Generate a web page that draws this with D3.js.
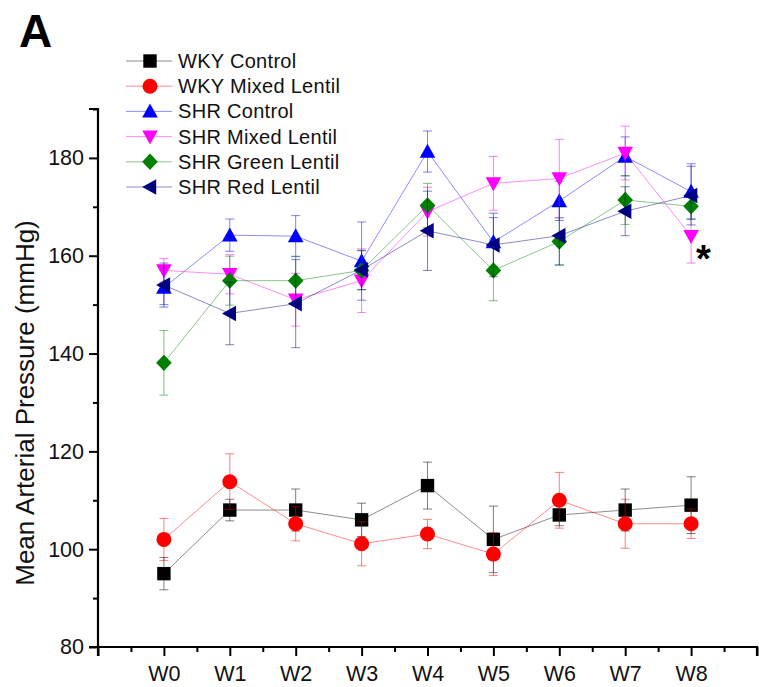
<!DOCTYPE html>
<html>
<head>
<meta charset="utf-8">
<script src="https://cdn.jsdelivr.net/npm/d3@7"></script>
<style>
  html, body { margin: 0; padding: 0; background: #fff; }
  svg { display: block; font-family: "Liberation Sans", Arial, sans-serif; }
</style>
</head>
<body>
<svg id="chart" width="759" height="687"></svg>
<script>
// ---- data ----
const weeks = ["W0", "W1", "W2", "W3", "W4", "W5", "W6", "W7", "W8"];
const seriesNames = ["WKY Control", "WKY Mixed Lentil", "SHR Control", "SHR Mixed Lentil", "SHR Green Lentil", "SHR Red Lentil"];
const wkyControl      = [95, 108, 108, 106, 113, 102, 107, 108, 109];
const wkyControlErr   = [3.3, 2.2, 4.3, 3.4, 4.8, 6.8, 2.2, 4.3, 5.8];
const wkyMixed        = [102, 113.8, 105.2, 101.1, 103.1, 99, 110, 105.2, 105.2];
const wkyMixedErr     = [4.3, 5.7, 3.5, 4.5, 3.0, 4.4, 5.7, 5.0, 3.0];
const shrControl      = [153.5, 164.2, 164, 158.9, 181.3, 162.8, 171.2, 180.3, 173.1];
const shrControlErr   = [3.5, 3.3, 4.2, 8.0, 4.2, 5, 4, 4, 5.7];
const shrMixed        = [157, 156.2, 151, 154.9, 169, 174.8, 175.8, 181, 164];
const shrMixedErr     = [2.4, 4, 5.4, 6.5, 5, 5.5, 8, 5.5, 5.5];
const shrGreen        = [138.1, 154.9, 154.9, 157, 170.3, 157, 162.9, 171.4, 170.1];
const shrGreenErr     = [6.6, 5, 5, 4, 4.5, 6.2, 4.8, 5, 2.5];
const shrRed          = [154, 148.2, 150.2, 157.1, 165.1, 162.2, 164.1, 169.1, 172.3];
const shrRedErr       = [4.5, 6.4, 9, 4, 8.1, 6.5, 6, 5, 6];
const yMajorTicks = [80, 100, 120, 140, 160, 180];
const yMinorTicks = [90, 110, 130, 150, 170, 190];
const yTitle = "Mean Arterial Pressure (mmHg)";
const panelLabel = "A";
const sigMark = "*";

const colors = ["#000000", "#ff0000", "#0000ff", "#ff00ff", "#008000", "#000080"];
const shapes = ["square", "circle", "triUp", "triDown", "diamond", "triLeft"];
const values = [wkyControl, wkyMixed, shrControl, shrMixed, shrGreen, shrRed];
const errors = [wkyControlErr, wkyMixedErr, shrControlErr, shrMixedErr, shrGreenErr, shrRedErr];
const series = seriesNames.map((n, i) => ({name: n, color: colors[i], shape: shapes[i],
  points: weeks.map((w, j) => ({i: j, v: values[i][j], e: errors[i][j]}))}));

// ---- layout ----
const svg = d3.select("#chart");
const x = d3.scaleLinear().domain([-1, 9]).range([98, 757]);
const y = d3.scaleLinear().domain([80, 190]).range([647, 109]);

function markerPath(shape) {
  const p = d3.path();
  if (shape === "square") { p.rect(-6.7, -6.7, 13.4, 13.4); }
  else if (shape === "circle") { p.moveTo(7.5, 0); p.arc(0, 0, 7.5, 0, Math.PI * 2); }
  else if (shape === "triUp") { p.moveTo(0, -7.8); p.lineTo(7.8, 6.2); p.lineTo(-7.8, 6.2); p.closePath(); }
  else if (shape === "triDown") { p.moveTo(0, 7.8); p.lineTo(7.8, -6.2); p.lineTo(-7.8, -6.2); p.closePath(); }
  else if (shape === "diamond") { p.moveTo(0, -8.2); p.lineTo(7.8, 0); p.lineTo(0, 8.2); p.lineTo(-7.8, 0); p.closePath(); }
  else if (shape === "triLeft") { p.moveTo(-7.8, 0); p.lineTo(6.2, -7.8); p.lineTo(6.2, 7.8); p.closePath(); }
  return p.toString();
}

// ---- axes ----
const yMajor = d3.axisLeft(y).tickValues(yMajorTicks).tickSize(9).tickPadding(5).tickFormat(d3.format("d"));
const yMinor = d3.axisLeft(y).tickValues(yMinorTicks).tickSize(5).tickFormat("");
const gyMinor = svg.append("g").attr("transform", `translate(${x(-1)},0)`).call(yMinor);
const gy = svg.append("g").attr("transform", `translate(${x(-1)},0)`).call(yMajor);

const xMajor = d3.axisBottom(x).tickValues(d3.range(-1, 10)).tickSize(9).tickPadding(10)
  .tickFormat(d => (d >= 0 && d < weeks.length) ? weeks[d] : "");
const xMinor = d3.axisBottom(x).tickValues(d3.range(-0.5, 9, 1)).tickSize(5).tickFormat("");
const gxMinor = svg.append("g").attr("transform", `translate(0,${y(80)})`).call(xMinor);
const gx = svg.append("g").attr("transform", `translate(0,${y(80)})`).call(xMajor);

[gy, gyMinor, gx, gxMinor].forEach(g => {
  g.selectAll(".domain").attr("stroke", "#000").attr("stroke-width", 2.2);
  g.selectAll(".tick line").attr("stroke", "#000").attr("stroke-width", 2);
  g.selectAll("text").attr("fill", "#111").attr("font-size", 21.5)
    .attr("font-family", "'Liberation Sans', Arial, sans-serif");
});
gy.select(".domain").attr("d", `M-9,${y(190)}H0V${y(80)}H-9`);
gyMinor.select(".domain").remove();
gxMinor.select(".domain").remove();
gx.select(".domain").attr("d", `M${x(-1)},9V0H${x(9)}V9`);

// y title
svg.append("text")
  .attr("transform", `translate(34,${(y(80) + y(190)) / 2 + 25}) rotate(-90)`)
  .attr("text-anchor", "middle")
  .attr("font-size", 26)
  .attr("fill", "#111")
  .text(yTitle);

// panel label
svg.append("text").attr("x", 19).attr("y", 47).attr("font-size", 46)
  .attr("font-weight", "bold").attr("fill", "#000").text(panelLabel);

// ---- series ----
const line = d3.line().x(d => x(d.i)).y(d => y(d.v));
series.forEach(s => {
  const g = svg.append("g");
  s.points.forEach(p => {
    const cx = x(p.i);
    g.append("line").attr("x1", cx).attr("x2", cx).attr("y1", y(p.v - p.e)).attr("y2", y(p.v + p.e))
      .attr("stroke", s.color).attr("stroke-width", 1).attr("stroke-opacity", 0.5);
    [p.v - p.e, p.v + p.e].forEach(v => {
      g.append("line").attr("x1", cx - 4.5).attr("x2", cx + 4.5).attr("y1", y(v)).attr("y2", y(v))
        .attr("stroke", s.color).attr("stroke-width", 1).attr("stroke-opacity", 0.5);
    });
  });
  g.append("path").datum(s.points).attr("d", line).attr("fill", "none")
    .attr("stroke", s.color).attr("stroke-width", 1).attr("stroke-opacity", 0.45);
  g.selectAll(".m").data(s.points).enter().append("path")
    .attr("d", markerPath(s.shape))
    .attr("transform", d => `translate(${x(d.i)},${y(d.v)})`)
    .attr("fill", s.color);
});

// significance mark
svg.append("text").attr("x", x(8) + 5).attr("y", y(164) + 36).attr("font-size", 38)
  .attr("font-weight", "bold").attr("fill", "#000").text(sigMark);

// ---- legend ----
const legend = svg.append("g");
series.forEach((s, i) => {
  const ly = 61 + i * 25.2;
  const row = legend.append("g").attr("transform", `translate(0,${ly})`);
  row.append("line").attr("x1", 126).attr("x2", 172).attr("y1", 0).attr("y2", 0)
    .attr("stroke", s.color).attr("stroke-width", 1).attr("stroke-opacity", 0.45);
  row.append("path").attr("d", markerPath(s.shape)).attr("transform", "translate(150,0)").attr("fill", s.color);
  row.append("text").attr("x", 178).attr("y", 7).attr("font-size", 20).attr("fill", "#111")
    .attr("letter-spacing", 0.3).text(s.name);
});
</script>
</body>
</html>
